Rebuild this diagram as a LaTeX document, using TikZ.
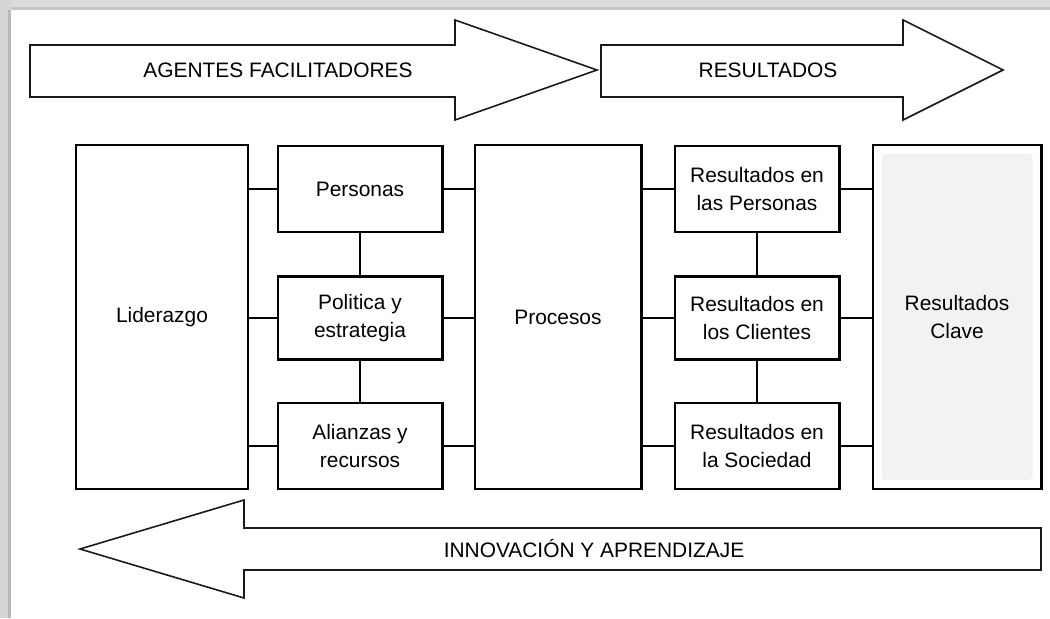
\documentclass[tikz,border=0pt]{standalone}
\usepackage{fontspec}
\setmainfont{Liberation Sans}
\usepackage{xcolor}
\usepackage{tikz}
\usetikzlibrary{arrows.meta}
\usetikzlibrary{positioning,fit,calc}

\begin{document}
\begin{tikzpicture}[x=0.02cm,y=-0.02cm,line join=miter]
% -------------------------------------------------
% Styles
% -------------------------------------------------
\tikzset{
  block/.style={draw=black, line width=1.15pt, fill=white, align=center,
    minimum width=3.3cm, minimum height=1.72cm, inner sep=0pt,
    font=\fontsize{11.9}{15.9}\selectfont},
  tallblock/.style={block, minimum height=6.88cm},
  link/.style={draw=black, line width=1.15pt},
  bigarrow/.style={draw=black!90, line width=0.9pt, fill=white},
  arrowtext/.style={font=\fontsize{11.9}{14}\selectfont},
}
\useasboundingbox (0,0) rectangle (1050,618);
\fill[white] (0,0) rectangle (1050,618);
% -------------------------------------------------
% frame
% -------------------------------------------------
\fill[black!14] (0,0) rectangle (1050,10);
\fill[black!22] (11,7) rectangle (1050,10);
\fill[black!16] (0,0) rectangle (11,618);
\fill[black!28] (8,10) rectangle (11,618);
% -------------------------------------------------
% top arrows
% -------------------------------------------------
\draw[bigarrow] (30,45) -- (455,45) -- (455,20) -- (597,70) -- (455,120)
  -- (455,97) -- (30,97) -- cycle;
\node[arrowtext] (agentes) at (278,70) {AGENTES FACILITADORES};

\draw[bigarrow] (601,45) -- (903,45) -- (903,20) -- (1003,70) -- (903,120)
  -- (903,97) -- (601,97) -- cycle;
\node[arrowtext] (resultados) at (768,70) {RESULTADOS};
% -------------------------------------------------
% blocks
% -------------------------------------------------
\node[tallblock, minimum width=3.44cm] (lid) at (162,317) {Liderazgo};

\node[block] (per) at (360,189) {Personas};
\node[block, minimum height=1.66cm] (pol) at (360,318) {Politica y\\estrategia};
\node[block] (ali) at (360,446) {Alianzas y\\recursos};

\node[tallblock, minimum width=3.34cm] (pro) at (558,317) {Procesos};

\node[block] (rpe) at (757,189) {Resultados en\\las Personas};
\node[block, minimum height=1.66cm] (rcl) at (757,318) {Resultados en\\los Clientes};
\node[block] (rso) at (757,446) {Resultados en\\la Sociedad};

\node[tallblock, minimum width=3.38cm,
  path picture={\fill[black!5, rounded corners=2pt]
    ([shift={(0.18cm,-0.18cm)}]path picture bounding box.north west) rectangle
    ([shift={(-0.18cm,0.18cm)}]path picture bounding box.south east);}]
  (clave) at (957,317) {Resultados\\Clave};
% -------------------------------------------------
% links
% -------------------------------------------------
\foreach \b in {per,pol,ali}{
  \draw[link] (lid.east |- \b.west) -- (\b.west);
  \draw[link] (\b.east) -- (pro.west |- \b.east);
}
\foreach \b in {rpe,rcl,rso}{
  \draw[link] (pro.east |- \b.west) -- (\b.west);
  \draw[link] (\b.east) -- (clave.west |- \b.east);
}
\draw[link] (per.south) -- (pol.north);
\draw[link] (pol.south) -- (ali.north);
\draw[link] (rpe.south) -- (rcl.north);
\draw[link] (rcl.south) -- (rso.north);
% -------------------------------------------------
% bottom arrow
% -------------------------------------------------
\draw[bigarrow] (1041,528) -- (244,528) -- (244,500) -- (80,549) -- (244,598)
  -- (244,570) -- (1041,570) -- cycle;
\node[arrowtext] (innovacion) at (594,549) {INNOVACIÓN Y APRENDIZAJE};

\end{tikzpicture}
\end{document}
